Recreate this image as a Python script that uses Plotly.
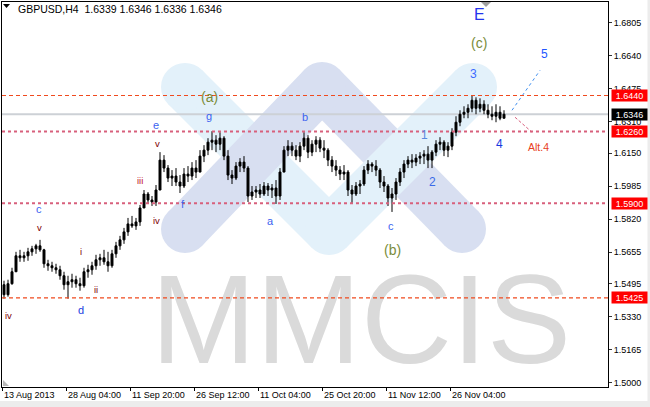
import plotly.graph_objects as go

# ---------------- data ----------------
symbol = "GBPUSD,H4"
header_ohlc = [1.6339, 1.6346, 1.6336, 1.6346]

opens = [1.5491, 1.5441, 1.5496, 1.5556, 1.5636, 1.5626, 1.5636, 1.5656, 1.5671, 1.5686,
         1.5666, 1.5596, 1.5586, 1.5576, 1.5566, 1.5536, 1.5491, 1.5506, 1.5516, 1.5496,
         1.5486, 1.5556, 1.5566, 1.5586, 1.5616, 1.5626, 1.5606, 1.5586, 1.5646, 1.5686,
         1.5716, 1.5756, 1.5796, 1.5786, 1.5806, 1.5876, 1.5946, 1.5916, 1.5906, 1.5966,
         1.6116, 1.6076, 1.6026, 1.6036, 1.6006, 1.5986, 1.6046, 1.6036, 1.6076, 1.6056,
         1.6136, 1.6166, 1.6206, 1.6216, 1.6196, 1.6226, 1.6136, 1.6041, 1.6026, 1.6086,
         1.6106, 1.6076, 1.5936, 1.5956, 1.5966, 1.5946, 1.5986, 1.5966, 1.5976, 1.5936,
         1.6056, 1.6166, 1.6186, 1.6166, 1.6136, 1.6186, 1.6226, 1.6156, 1.6196, 1.6216,
         1.6176, 1.6166, 1.6116, 1.6086, 1.6066, 1.6046, 1.6056, 1.5966, 1.5946, 1.5986,
         1.5996, 1.6066, 1.6096, 1.6086, 1.6066, 1.6006, 1.5986, 1.5926, 1.5946, 1.6006,
         1.6056, 1.6096, 1.6116, 1.6106, 1.6126, 1.6136, 1.6146, 1.6116, 1.6156, 1.6196,
         1.6206, 1.6166, 1.6186, 1.6256, 1.6306, 1.6346, 1.6356, 1.6376, 1.6416, 1.6376,
         1.6396, 1.6366, 1.6346, 1.6336, 1.6356, 1.6326]
highs = [1.5511, 1.5516, 1.5576, 1.5656, 1.5666, 1.5656, 1.5676, 1.5686, 1.5696, 1.5716,
         1.5671, 1.5616, 1.5606, 1.5596, 1.5586, 1.5556, 1.5536, 1.5546, 1.5536, 1.5526,
         1.5576, 1.5591, 1.5606, 1.5641, 1.5646, 1.5666, 1.5656, 1.5666, 1.5706, 1.5736,
         1.5776, 1.5826, 1.5836, 1.5826, 1.5891, 1.5966, 1.5956, 1.5936, 1.5991, 1.6156,
         1.6141, 1.6091, 1.6066, 1.6076, 1.6041, 1.6076, 1.6086, 1.6106, 1.6116, 1.6166,
         1.6191, 1.6226, 1.6261, 1.6241, 1.6256, 1.6236, 1.6166, 1.6066, 1.6106, 1.6126,
         1.6136, 1.6086, 1.5986, 1.5986, 1.5996, 1.6006, 1.6001, 1.5996, 1.6016, 1.6076,
         1.6186, 1.6216, 1.6206, 1.6191, 1.6206, 1.6256, 1.6241, 1.6216, 1.6236, 1.6231,
         1.6216, 1.6176, 1.6136, 1.6116, 1.6086, 1.6091, 1.6066, 1.5991, 1.6006, 1.6016,
         1.6086, 1.6116, 1.6106, 1.6116, 1.6076, 1.6036, 1.5996, 1.5976, 1.6026, 1.6076,
         1.6116, 1.6136, 1.6146, 1.6146, 1.6156, 1.6166, 1.6186, 1.6166, 1.6216, 1.6231,
         1.6216, 1.6206, 1.6276, 1.6336, 1.6366, 1.6386, 1.6396, 1.6441, 1.6431, 1.6426,
         1.6416, 1.6396, 1.6386, 1.6396, 1.6386, 1.6366]
lows = [1.5421, 1.5431, 1.5491, 1.5556, 1.5606, 1.5606, 1.5611, 1.5636, 1.5646, 1.5656,
        1.5576, 1.5561, 1.5556, 1.5546, 1.5516, 1.5466, 1.5421, 1.5476, 1.5476, 1.5461,
        1.5476, 1.5526, 1.5541, 1.5566, 1.5586, 1.5591, 1.5556, 1.5576, 1.5626, 1.5666,
        1.5696, 1.5736, 1.5776, 1.5766, 1.5786, 1.5876, 1.5896, 1.5886, 1.5886, 1.5966,
        1.6056, 1.6006, 1.5986, 1.5986, 1.5951, 1.5976, 1.6006, 1.6016, 1.6026, 1.6056,
        1.6106, 1.6141, 1.6166, 1.6156, 1.6166, 1.6116, 1.6016, 1.5996, 1.6016, 1.6056,
        1.6056, 1.5906, 1.5916, 1.5926, 1.5926, 1.5936, 1.5936, 1.5926, 1.5896, 1.5916,
        1.6056, 1.6136, 1.6136, 1.6116, 1.6106, 1.6166, 1.6126, 1.6136, 1.6156, 1.6156,
        1.6126, 1.6086, 1.6056, 1.6036, 1.6016, 1.6016, 1.5936, 1.5901, 1.5936, 1.5946,
        1.5986, 1.6046, 1.6056, 1.6036, 1.5976, 1.5956, 1.5886, 1.5856, 1.5916, 1.5986,
        1.6026, 1.6076, 1.6076, 1.6086, 1.6096, 1.6096, 1.6076, 1.6076, 1.6136, 1.6166,
        1.6136, 1.6131, 1.6166, 1.6236, 1.6286, 1.6326, 1.6326, 1.6356, 1.6346, 1.6356,
        1.6346, 1.6326, 1.6316, 1.6306, 1.6316, 1.6326]
closes = [1.5441, 1.5496, 1.5556, 1.5636, 1.5626, 1.5636, 1.5656, 1.5671, 1.5686, 1.5666,
          1.5596, 1.5586, 1.5576, 1.5566, 1.5536, 1.5491, 1.5506, 1.5516, 1.5496, 1.5486,
          1.5556, 1.5566, 1.5586, 1.5616, 1.5626, 1.5606, 1.5586, 1.5646, 1.5686, 1.5716,
          1.5756, 1.5796, 1.5786, 1.5806, 1.5876, 1.5946, 1.5916, 1.5906, 1.5966, 1.6116,
          1.6076, 1.6026, 1.6036, 1.6006, 1.5986, 1.6046, 1.6036, 1.6076, 1.6056, 1.6136,
          1.6166, 1.6206, 1.6216, 1.6196, 1.6226, 1.6136, 1.6041, 1.6026, 1.6086, 1.6106,
          1.6076, 1.5936, 1.5956, 1.5966, 1.5946, 1.5986, 1.5966, 1.5976, 1.5936, 1.6056,
          1.6166, 1.6186, 1.6166, 1.6136, 1.6186, 1.6226, 1.6156, 1.6196, 1.6216, 1.6176,
          1.6166, 1.6116, 1.6086, 1.6066, 1.6046, 1.6056, 1.5966, 1.5946, 1.5986, 1.5996,
          1.6066, 1.6096, 1.6086, 1.6066, 1.6006, 1.5986, 1.5926, 1.5946, 1.6006, 1.6056,
          1.6096, 1.6116, 1.6106, 1.6126, 1.6136, 1.6146, 1.6116, 1.6156, 1.6196, 1.6206,
          1.6166, 1.6186, 1.6256, 1.6306, 1.6346, 1.6356, 1.6376, 1.6416, 1.6376, 1.6396,
          1.6366, 1.6346, 1.6336, 1.6356, 1.6326, 1.6346]
bars = list(range(len(closes)))

date_labels = ["13 Aug 2013", "28 Aug 04:00", "11 Sep 20:00", "26 Sep 12:00",
               "11 Oct 04:00", "25 Oct 20:00", "11 Nov 12:00", "26 Nov 04:00"]
date_tick_bars = [-0.5, 15.5, 31.5, 47.5, 63.5, 79.5, 95.5, 111.5]

price_ticks = [1.6805, 1.6640, 1.6475, 1.6310, 1.6150, 1.5985,
               1.5820, 1.5655, 1.5495, 1.5330, 1.5165, 1.5000]

level_prices = [1.6440, 1.6260, 1.5900, 1.5425]
bid_price = 1.6346

wave5_bars = [127.0, 134.0]
wave5_prices = [1.6366, 1.6566]
alt4_bars = [127.75, 132.0]
alt4_prices = [1.6331, 1.6256]

wave_texts = ["E", "(c)", "(a)", "(b)", "3", "5", "1", "2", "4", "Alt.4",
              "g", "b", "e", "v", "iii", "iv", "f", "a", "c",
              "c", "v", "i", "ii", "d", "iv"]
watermark_text = "MMCIS"

# ---------------- layout helpers ----------------
W, H = 650, 407
PL, PR, PT, PB = 2, 608, 2, 387
X_RANGE = [-0.5, 151.0]
Y_RANGE = [1.4978, 1.6909]
FONT = "Liberation Sans"


def fx(px):
    return (px - PL) / (PR - PL)


def fy(py):
    return (PB - py) / (PB - PT)


def px_to_bar(px):
    return X_RANGE[0] + (px - PL) / (PR - PL) * (X_RANGE[1] - X_RANGE[0])


def py_to_price(py):
    return Y_RANGE[1] - (py - PT) / (PB - PT) * (Y_RANGE[1] - Y_RANGE[0])


fig = go.Figure()

# watermark text (behind candles)
fig.add_trace(go.Scatter(
    x=[px_to_bar(361)], y=[py_to_price(331)], mode="text", text=[watermark_text],
    textfont=dict(family=FONT, size=126, color="#dadada"),
    textposition="middle center", hoverinfo="skip", showlegend=False, cliponaxis=False))

# candles
fig.add_trace(go.Candlestick(
    x=bars, open=opens, high=highs, low=lows, close=closes,
    increasing=dict(line=dict(color="black", width=1), fillcolor="black"),
    decreasing=dict(line=dict(color="black", width=1), fillcolor="black"),
    whiskerwidth=0, hoverinfo="skip", showlegend=False))

# projection lines
fig.add_trace(go.Scatter(x=wave5_bars, y=wave5_prices, mode="lines",
                         line=dict(color="#3f8ff0", width=1, dash="dot"),
                         hoverinfo="skip", showlegend=False))
fig.add_trace(go.Scatter(x=alt4_bars, y=alt4_prices, mode="lines",
                         line=dict(color="#d9607e", width=1, dash="3px,2px"),
                         hoverinfo="skip", showlegend=False))

shapes = []

# ---- logo watermark: two interlocking bands ----
BW = 48
LB = "#e3f1fa"
LAV = "#d8dff1"


def band(p0, p1, color):
    shapes.append(dict(type="line", xref="paper", yref="paper",
                       x0=fx(p0[0]), y0=fy(p0[1]), x1=fx(p1[0]), y1=fy(p1[1]),
                       line=dict(color=color, width=BW), layer="below"))


def cap(c, color):
    r = BW / 2
    shapes.append(dict(type="circle", xref="paper", yref="paper",
                       x0=fx(c[0] - r), x1=fx(c[0] + r), y0=fy(c[1] + r), y1=fy(c[1] - r),
                       fillcolor=color, line=dict(width=0), layer="below"))


C1, B, C2 = (185, 87), (329, 231), (473, 87)
L1, P, L2 = (185, 229), (322, 86), (462, 229)
band(C1, B, LB); cap(C1, LB); cap(B, LB)
band(L1, P, LAV); band(P, L2, LAV); cap(L1, LAV); cap(P, LAV); cap(L2, LAV)
band(B, C2, LB); cap(C2, LB)

# bid line
shapes.append(dict(type="line", xref="paper", yref="y", x0=0, x1=1, y0=bid_price, y1=bid_price,
                   line=dict(color="#cdd1d6", width=2), layer="below"))

# level lines
level_styles = [("#f04a1e", 1.2, "4px,3px"), ("#d8607c", 2, "3px,3px"),
                ("#d8607c", 2, "3px,3px"), ("#f04a1e", 1.2, "4px,3px")]
for p, (col, wd, dsh) in zip(level_prices, level_styles):
    shapes.append(dict(type="line", xref="paper", yref="y", x0=0, x1=1, y0=p, y1=p,
                       line=dict(color=col, width=wd, dash=dsh), layer="above"))

# small markers
shapes.append(dict(type="path", xref="paper", yref="paper",
                   path=f"M {fx(3)} {fy(4)} L {fx(10)} {fy(4)} L {fx(6.5)} {fy(8)} Z",
                   fillcolor="black", line=dict(width=0)))
shapes.append(dict(type="path", xref="paper", yref="paper",
                   path=f"M {fx(481)} {fy(2)} L {fx(491)} {fy(2)} L {fx(486)} {fy(7)} Z",
                   fillcolor="#a0a0a0", line=dict(width=0)))
shapes.append(dict(type="path", xref="paper", yref="paper",
                   path=f"M {fx(3)} {fy(380)} L {fx(3)} {fy(386)} L {fx(9)} {fy(386)} Z",
                   fillcolor="#b8b8b8", line=dict(width=0)))
# window edge strips
shapes.append(dict(type="rect", xref="paper", yref="paper",
                   x0=fx(0), x1=fx(650), y0=fy(407), y1=fy(401),
                   fillcolor="#ececec", line=dict(width=0)))
shapes.append(dict(type="rect", xref="paper", yref="paper",
                   x0=fx(647.5), x1=fx(650), y0=fy(407), y1=fy(0),
                   fillcolor="#ececec", line=dict(width=0)))

annotations = []

# header
annotations.append(dict(
    x=fx(16), y=fy(9), xref="paper", yref="paper", xanchor="left", yanchor="middle",
    text=symbol + "\u00a0\u00a0" + " ".join(f"{v:.4f}" for v in header_ohlc),
    showarrow=False, font=dict(family=FONT, size=10.5, color="black")))

# date labels
for tb, lab in zip(date_tick_bars, date_labels):
    annotations.append(dict(x=tb, y=fy(395), xref="x", yref="paper", xanchor="left",
                            yanchor="middle", xshift=0, text=lab, showarrow=False,
                            font=dict(family=FONT, size=9, color="black")))

# right price labels
for p, bg in zip(level_prices + [bid_price], ["#ff0000"] * 4 + ["#000000"]):
    annotations.append(dict(x=fx(611), xref="paper", xanchor="left", y=p, yref="y",
                            yanchor="middle", text=f"{p:.4f}", showarrow=False,
                            font=dict(family=FONT, size=9, color="white"),
                            bgcolor=bg, width=35, height=11, borderpad=0, align="center"))

# wave labels (position px, colour, size)
BLUE = "#3b63f0"
MAROON = "#800000"
OLIVE = "#7a8c3a"
wave_pos = [(479, 14, "#2233ee", 16), (479, 43, OLIVE, 14), (209, 97, OLIVE, 14),
            (392, 250, OLIVE, 14), (473, 74, "#3d6bff", 12), (544, 54, "#2255ff", 12),
            (424, 135, "#5a8ae0", 12), (432, 182, "#3a6ae8", 12), (500, 144, "#1638e0", 12),
            (538, 147, "#e8401c", 10.5),
            (209, 116, BLUE, 11), (305, 117, BLUE, 11), (156, 125, BLUE, 11),
            (157, 143, MAROON, 9.5), (140, 180, "#c0141e", 9.5), (156, 220, MAROON, 9.5),
            (183, 204, BLUE, 11), (270, 221, BLUE, 11), (391, 226, BLUE, 11),
            (39, 209, BLUE, 11), (39, 227, MAROON, 9.5), (81, 251, MAROON, 9.5),
            (96, 289, MAROON, 9.5), (81, 310, "#2040e0", 11), (8, 315, MAROON, 9.5)]
for t, (px, py, col, sz) in zip(wave_texts, wave_pos):
    annotations.append(dict(x=fx(px), y=fy(py), xref="paper", yref="paper",
                            xanchor="center", yanchor="middle", text=t, showarrow=False,
                            font=dict(family=FONT, size=sz, color=col)))

fig.update_layout(
    width=W, height=H, margin=dict(l=PL, r=W - PR, t=PT, b=H - PB),
    paper_bgcolor="white", plot_bgcolor="white", showlegend=False,
    shapes=shapes, annotations=annotations,
    xaxis=dict(range=X_RANGE, showgrid=False, zeroline=False, showline=True, mirror=True,
               linecolor="black", linewidth=1, tickvals=date_tick_bars,
               ticktext=[""] * len(date_tick_bars), showticklabels=False,
               ticks="outside", ticklen=3, tickcolor="black",
               rangeslider=dict(visible=False), fixedrange=True),
    yaxis=dict(range=Y_RANGE, side="right", showgrid=False, zeroline=False, showline=True,
               mirror=True, linecolor="black", linewidth=1, tickvals=price_ticks,
               ticktext=[f"{v:.4f}" for v in price_ticks], ticks="outside", ticklen=3,
               tickcolor="#333333", tickfont=dict(family=FONT, size=9, color="black"),
               fixedrange=True),
)

fig.write_html("out.html", config={"displayModeBar": False},
               post_script="document.body.style.margin='0px';document.body.style.padding='0px';")
